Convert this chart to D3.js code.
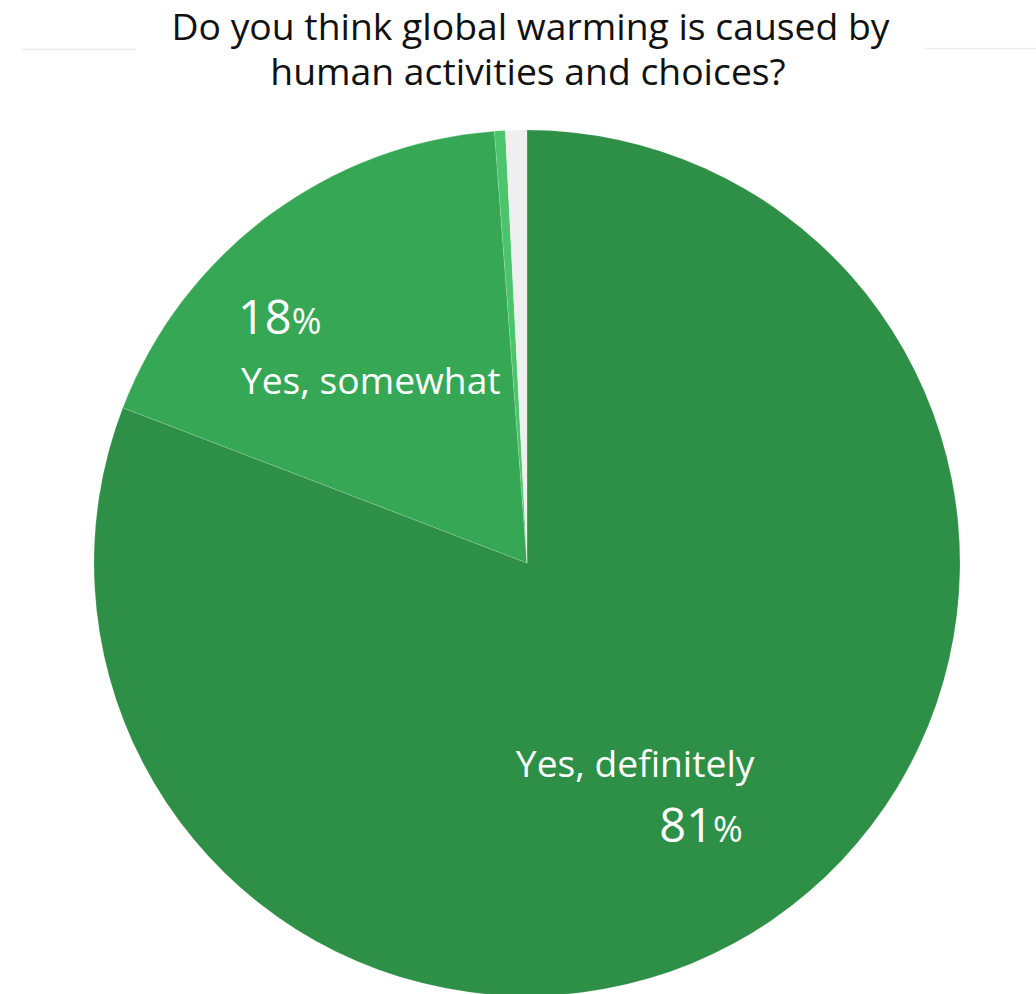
<!DOCTYPE html>
<html>
<head>
<meta charset="utf-8">
<script src="https://cdn.jsdelivr.net/npm/d3@7"></script>
<style>
  html, body { margin: 0; padding: 0; background: #ffffff; }
  svg { display: block; }
  text { font-family: "Open Sans", "Noto Sans", sans-serif; }
</style>
</head>
<body>
<svg id="chart" width="1036" height="994"></svg>
<script>
// Survey answers, in drawing order (clockwise from 12 o'clock)
const answers = ["Yes, definitely", "Yes, somewhat", "Not really", "No"];
const shares = [81, 18, 0.4, 0.8];
const sliceColors = ["#2e8f47", "#36a855", "#4cc46c", "#efefef"];
const titleLines = ["Do you think global warming is caused by", "human activities and choices?"];

const width = 1036, height = 994;
const cx = 527, cy = 563, radius = 433;

const svg = d3.select("#chart");

// Title (two lines in one text block) with thin rules on either side
const title = svg.append("g").attr("class", "title");
title.append("text")
  .attr("text-anchor", "middle")
  .attr("font-size", 37.3)
  .attr("fill", "#111")
  .selectAll("tspan")
  .data(titleLines)
  .join("tspan")
  .attr("x", (d, i) => i === 0 ? 530.5 : 528)
  .attr("y", (d, i) => 40 + i * 45)
  .text(d => d);
title.append("line").attr("x1", 21).attr("x2", 136).attr("y1", 49.5).attr("y2", 49.5)
  .attr("stroke", "#ececec").attr("stroke-width", 1.5);
title.append("line").attr("x1", 925).attr("x2", 1036).attr("y1", 48.5).attr("y2", 48.5)
  .attr("stroke", "#ececec").attr("stroke-width", 1.5);

// Pie
const data = answers.map((a, i) => ({ answer: a, value: shares[i], color: sliceColors[i] }));
const pie = d3.pie().value(d => d.value).sort(null);
const arcs = pie(data);
const arc = d3.arc().innerRadius(0).outerRadius(radius);
const labelArc = d3.arc().innerRadius(radius * 0.6).outerRadius(radius * 0.6);

const g = svg.append("g").attr("transform", `translate(${cx},${cy})`);
g.selectAll("path")
  .data(arcs)
  .join("path")
  .attr("d", arc)
  .attr("fill", d => d.data.color)
  .attr("stroke", "#ffffff")
  .attr("stroke-opacity", 0.25)
  .attr("stroke-width", 0.6);

// Slice labels: answer text plus percentage (smaller % sign)
const fmt = d3.format("d");
const labelLayout = {
  "Yes, definitely": { name: [-39, 0, "middle"], pct: [27, 65, "middle"] },
  "Yes, somewhat": { name: [-131, 39, "start"], pct: [-134, -21, "start"] }
};
const labels = g.selectAll("g.label")
  .data(arcs.filter(d => d.data.value >= 5))
  .join("g")
  .attr("class", "label")
  .attr("transform", d => `translate(${labelArc.centroid(d)})`);

labels.append("text")
  .attr("x", d => labelLayout[d.data.answer].name[0])
  .attr("y", d => labelLayout[d.data.answer].name[1])
  .attr("text-anchor", d => labelLayout[d.data.answer].name[2])
  .attr("font-size", 37.2)
  .attr("fill", "#ffffff")
  .text(d => d.data.answer);

const pctText = labels.append("text")
  .attr("x", d => labelLayout[d.data.answer].pct[0])
  .attr("y", d => labelLayout[d.data.answer].pct[1])
  .attr("text-anchor", d => labelLayout[d.data.answer].pct[2])
  .attr("fill", "#ffffff");
pctText.append("tspan").attr("font-size", 47).text(d => fmt(d.data.value));
pctText.append("tspan").attr("font-size", 36).text("%");
</script>
</body>
</html>
